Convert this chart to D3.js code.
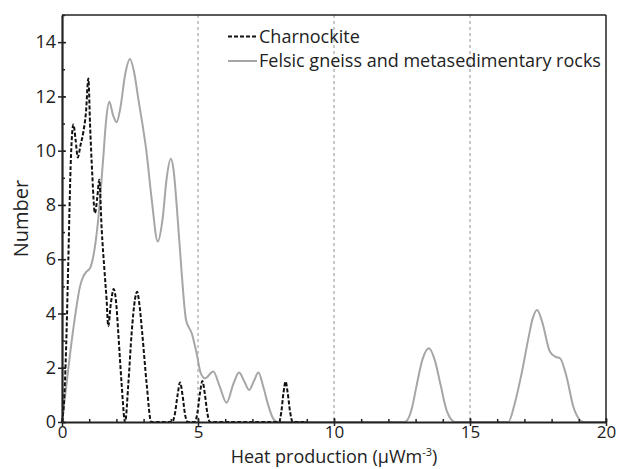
<!DOCTYPE html>
<html>
<head>
<meta charset="utf-8">
<script src="https://d3js.org/d3.v7.min.js"></script>
<style>
  body { margin: 0; background: #fff; }
  text { font-family: "Open Sans", sans-serif; fill: #222; }
</style>
</head>
<body>
<div id="chart"></div>
<script>
// heat production (x) and number (y)
var charnX = [0, 0.085, 0.17, 0.23, 0.33, 0.42, 0.5, 0.58, 0.68, 0.78, 0.88, 0.97, 1.03, 1.11, 1.21, 1.3, 1.37, 1.46, 1.56, 1.64, 1.7, 1.8, 1.9, 2.0, 2.07, 2.19, 2.32,
              2.44, 2.56, 2.68, 2.76, 2.85, 2.95, 3.11, 3.28,
              4.05, 4.15, 4.25, 4.34, 4.43, 4.52, 4.62,
              4.88, 4.98, 5.07, 5.16, 5.25, 5.34, 5.44,
              7.98, 8.06, 8.14, 8.22, 8.3, 8.39, 8.48, 9.0];
var charnY = [0, 0.93, 3.4, 5.86, 9.8, 10.96, 10.4, 9.75, 10.2, 10.66, 11.4, 12.66, 11.0, 9.18, 7.7, 8.3, 8.93, 7.08, 5.6, 4.5, 3.54, 4.4, 4.9, 4.3, 3.27, 1.43, 0,
              1.43, 3.27, 4.5, 4.8, 4.3, 3.27, 1.43, 0,
              0, 0.3, 1.0, 1.46, 1.0, 0.3, 0,
              0, 0.35, 1.05, 1.51, 1.05, 0.35, 0,
              0, 0.35, 1.05, 1.49, 1.05, 0.35, 0, 0];

var felsX = [0, 0.17, 0.32, 0.48, 0.66, 0.78, 0.91, 1.03, 1.15, 1.33, 1.52, 1.62, 1.74, 1.88, 2.01, 2.15, 2.32, 2.5, 2.65, 2.81, 2.99, 3.1, 3.3, 3.52, 3.7, 3.85, 4.0, 4.1,
             4.22, 4.4, 4.56, 4.77, 4.95, 5.1, 5.26, 5.56, 5.8, 6.05, 6.3, 6.51, 6.7, 6.88, 7.05, 7.22, 7.4, 7.58, 7.75, 7.92,
             12.6, 12.85, 13.04, 13.25, 13.49, 13.7, 13.92, 14.15, 14.45,
             16.41, 16.65, 16.9, 17.15, 17.3, 17.47, 17.65, 17.94, 18.15, 18.31, 18.55, 18.8, 19.0, 19.17, 20];
var felsY = [0, 1.43, 2.7, 3.89, 4.99, 5.36, 5.55, 5.67, 6.1, 7.45, 9.79, 11.1, 11.8, 11.3, 11.05, 11.6, 12.8, 13.38, 12.9, 11.88, 10.77, 10.0, 8.19, 6.65, 7.5, 9.0, 9.7, 9.3,
             7.94, 5.49, 3.76, 3.27, 2.53, 1.8, 1.61, 1.86, 1.3, 0.71, 1.4, 1.82, 1.5, 1.18, 1.5, 1.82, 1.3, 0.63, 0.15, 0,
             0, 0.45, 1.36, 2.3, 2.72, 2.3, 1.36, 0.4, 0,
             0, 0.7, 1.8, 3.1, 3.8, 4.13, 3.7, 2.59, 2.4, 2.35, 1.67, 0.56, 0.12, 0, 0];

var seriesNames = ["Charnockite", "Felsic gneiss and metasedimentary rocks"];
var xTicks = [0, 5, 10, 15, 20];
var yTicks = [0, 2, 4, 6, 8, 10, 12, 14];

var margin = {top: 15, right: 11, bottom: 47, left: 62},
    width = 617 - margin.left - margin.right,
    height = 469 - margin.top - margin.bottom;

var x = d3.scaleLinear().domain([0, 20]).range([0, width]);
var y = d3.scaleLinear().domain([0, 15]).range([height, 0]);

var svg = d3.select("#chart").append("svg")
    .attr("width", 617)
    .attr("height", 469)
  .append("g")
    .attr("transform", "translate(" + margin.left + "," + margin.top + ")");

// dashed grid at 5, 10, 15
svg.selectAll(".grid")
    .data([5, 10, 15])
  .enter().append("line")
    .attr("x1", function(d) { return x(d); })
    .attr("x2", function(d) { return x(d); })
    .attr("y1", 0)
    .attr("y2", height)
    .attr("stroke", "#666")
    .attr("stroke-width", 0.7)
    .attr("stroke-dasharray", "3,3");

var line = d3.line()
    .x(function(d) { return x(d[0]); })
    .y(function(d) { return y(d[1]); })
    .curve(d3.curveMonotoneX);

svg.append("path")
    .datum(d3.zip(felsX, felsY))
    .attr("d", line)
    .attr("fill", "none")
    .attr("stroke", "#a6a6a6")
    .attr("stroke-width", 2);

svg.append("path")
    .datum(d3.zip(charnX, charnY))
    .attr("d", line)
    .attr("fill", "none")
    .attr("stroke", "#111")
    .attr("stroke-width", 2)
    .attr("stroke-dasharray", "4,2");

// box top and right
svg.append("line").attr("x1", 0).attr("x2", width).attr("y1", 0).attr("y2", 0)
    .attr("stroke", "#222").attr("stroke-width", 1.5);
svg.append("line").attr("x1", width).attr("x2", width).attr("y1", 0).attr("y2", height)
    .attr("stroke", "#222").attr("stroke-width", 1.5);

// minor ticks, inside
var xAxisMinor = d3.axisTop(x).tickValues(d3.range(0, 21)).tickSize(3).tickFormat("");
svg.append("g")
    .attr("transform", "translate(0," + height + ")")
    .call(xAxisMinor)
    .call(function(g) { g.select(".domain").remove(); })
    .selectAll("line").attr("stroke", "#222").attr("stroke-width", 1.5);

var yAxisMinor = d3.axisRight(y).tickValues(d3.range(0, 16)).tickSize(3).tickFormat("");
svg.append("g")
    .call(yAxisMinor)
    .call(function(g) { g.select(".domain").remove(); })
    .selectAll("line").attr("stroke", "#222").attr("stroke-width", 1.5);

var xAxis = d3.axisBottom(x).tickValues(xTicks).tickSizeInner(4).tickSizeOuter(0).tickPadding(0);
var gx = svg.append("g")
    .attr("transform", "translate(0," + height + ")")
    .call(xAxis);
gx.select(".domain").attr("stroke", "#222").attr("stroke-width", 2.2);
gx.selectAll(".tick line").attr("stroke", "#222").attr("stroke-width", 1.5).attr("y1", -4);
gx.selectAll("text").style("font-size", "17px").attr("fill", "#222");

var yAxis = d3.axisLeft(y).tickValues(yTicks).tickSizeInner(4).tickSizeOuter(0).tickPadding(2);
var gy = svg.append("g").call(yAxis);
gy.select(".domain").attr("stroke", "#222").attr("stroke-width", 2.2);
gy.selectAll(".tick line").attr("stroke", "#222").attr("stroke-width", 1.5).attr("x1", 4);
gy.selectAll("text").style("font-size", "18px").attr("fill", "#222");

// axis titles
var xt = svg.append("text")
    .attr("x", width / 2)
    .attr("y", height + 41)
    .attr("text-anchor", "middle")
    .style("font-size", "18px")
    .text("Heat production (\u03bcWm");
xt.append("tspan").attr("dy", -7).style("font-size", "11px").text("-3");
xt.append("tspan").attr("dy", 7).text(")");

svg.append("text")
    .attr("transform", "translate(" + (-34) + "," + (height / 2) + ") rotate(-90)")
    .attr("text-anchor", "middle")
    .style("font-size", "20px")
    .text("Number");

// legend
var legend = svg.selectAll(".legend")
    .data(seriesNames)
  .enter().append("g")
    .attr("transform", function(d, i) { return "translate(166," + (21.5 + i * 24.5) + ")"; });

legend.append("line")
    .attr("x1", 0).attr("x2", 29)
    .attr("stroke", function(d, i) { return i ? "#a6a6a6" : "#111"; })
    .attr("stroke-width", 2)
    .attr("stroke-dasharray", function(d, i) { return i ? null : "4,2"; });

legend.append("text")
    .attr("x", 31)
    .attr("dy", "0.35em")
    .style("font-size", "18px")
    .text(function(d) { return d; });
</script>
</body>
</html>
